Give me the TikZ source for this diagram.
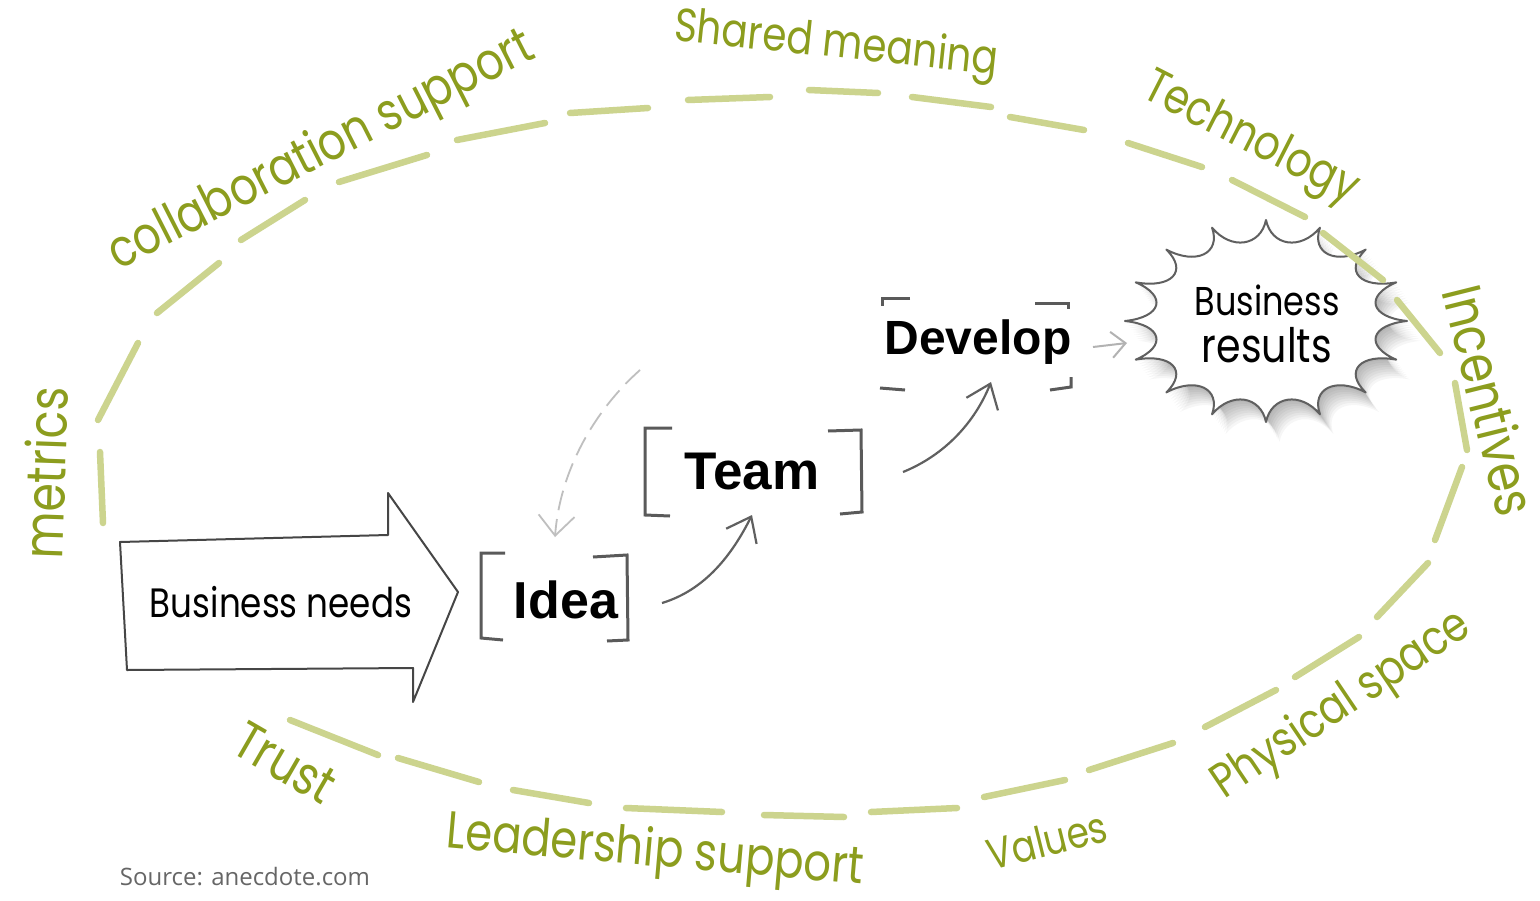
\documentclass[tikz,border=0pt]{standalone}
\usepackage{fontspec}
\usepackage{graphicx}
\usetikzlibrary{arrows.meta}
\newfontfamily\handfont{Poppins}
\newfontfamily\boldsans{Liberation Sans}
\newfontfamily\srcfont{Open Sans}
\definecolor{lblgreen}{RGB}{140,157,30}
\definecolor{dashgreen}{RGB}{204,212,142}
\definecolor{pencil}{RGB}{70,70,70}
\definecolor{brkgray}{RGB}{90,90,90}
\newcommand\fitw[2]{\scalebox{1}[1.2]{\resizebox{#1}{!}{#2}}}
\newcommand\burstpath[1]{%
  \path[#1] ({1266+141},321) \foreach \i in {1,...,16}{
    .. controls ({1266+0.74*141*cos((\i-1)*22.5+3)},{321+0.74*101*sin((\i-1)*22.5+3)})
    and ({1266+0.74*141*cos(\i*22.5-3)},{321+0.74*101*sin(\i*22.5-3)})
    .. ({1266+141*cos(\i*22.5)},{321+101*sin(\i*22.5)})
  } -- cycle;}
\begin{document}
\begin{tikzpicture}[x=1pt,y=-1pt,
  glabel/.style={text=lblgreen, inner sep=0pt, font=\handfont},
  ring/.style={draw=dashgreen, line width=6.5pt, line cap=round},
  brk/.style={draw=brkgray, line width=3pt},
  pencilline/.style={draw=pencil, line width=2pt, line join=round},
  barb/.style={-{Straight Barb[length=22pt,width=34pt]}},
  pencilarrow/.style={draw=gray!75!black, line width=2.2pt, barb},
  fadedarrow/.style={draw=gray!50, line width=1.8pt, dash pattern=on 20pt off 9pt, -{Straight Barb[length=20pt,width=36pt]}},
  smallarrow/.style={draw=gray!60, line width=2pt, -{Straight Barb[length=14pt,width=26pt]}},
  bold/.style={inner sep=0pt, font=\boldsans\bfseries}
]
\fill[white] (0,0) rectangle (1540,900);
\path[use as bounding box] (0,0) rectangle (1540,900);

% burst shadow + burst
\foreach \s in {1,...,9}{\burstpath{fill=black, fill opacity=0.035, xshift=\s*1.5pt, yshift=-\s*2.2pt}}
\burstpath{fill=white, draw=gray!75!black, line width=2pt, line join=round}

% dashed ring
\draw[ring]
 (290,720) -- (378,755)  (398,758) -- (479,782)  (513,790) -- (589,803)
 (626,808) -- (722,812)  (764,815) -- (844,817)  (871,812) -- (957,808)
 (984,797) -- (1065,780) (1089,770) -- (1173,743) (1205,727) -- (1276,690)
 (1295,677) -- (1359,637) (1377,617) -- (1428,563) (1435,540) -- (1462,467)
 (1467,450) -- (1455,383) (1440,353) -- (1397,300) (1383,280) -- (1323,233)
 (1305,217) -- (1232,180) (1202,167) -- (1128,143) (1084,130) -- (1010,117)
 (991,107) -- (912,97) (878,93) -- (809,90) (770,97) -- (688,100)
 (648,108) -- (570,113) (545,123) -- (457,140) (427,155) -- (339,182)
 (305,200) -- (241,240) (219,263) -- (157,313) (138,343) -- (98,420)
 (100,452) -- (103,523);

% green labels
\node[glabel, rotate=27] (collab) at (322,152) {\fitw{470pt}{collaboration support}};
\node[glabel, rotate=-6] (shared) at (836,46) {\fitw{325pt}{Shared meaning}};
\node[glabel, rotate=-27] (tech) at (1250,140) {\fitw{235pt}{Technology}};
\node[glabel, rotate=-76] (incent) at (1490,400) {\fitw{235pt}{Incentives}};
\node[glabel, rotate=88] (metrics) at (45,473) {\fitw{172pt}{metrics}};
\node[glabel, rotate=-30] (trust) at (285,763) {\fitw{108pt}{Trust}};
\node[glabel, rotate=-5] (leader) at (655,853) {\fitw{418pt}{Leadership support}};
\node[glabel, rotate=14] (values) at (1047,840) {\fitw{122pt}{Values}};
\node[glabel, rotate=34] (physical) at (1342,706) {\fitw{300pt}{Physical space}};

% source
\node[inner sep=0pt, text=gray!80!black, font=\srcfont\fontsize{24}{28}\selectfont] (src) at (245,877) {Source: anecdote.com};

% business needs arrow
\draw[pencilline] (120,542) -- (388,535) -- (388,493) -- (458,592) -- (413,702) -- (413,668) -- (127,670) -- cycle;
\node[inner sep=0pt, font=\handfont] (bneeds) at (281,602) {\fitw{262pt}{Business needs}};

% brackets
\draw[brk] (505,553) -- (481,553) -- (481,638) -- (503,640);
\draw[brk] (593,557) -- (627,555) -- (628,640) -- (607,641);
\draw[brk] (672,428) -- (645,428) -- (645,515) -- (670,516);
\draw[brk] (828,431) -- (861,430) -- (862,512) -- (840,514);
\draw[brk] (910,298) -- (882,298) -- (882,306);
\draw[brk] (880,388) -- (905,390);
\draw[brk] (1035,303) -- (1068,303) -- (1068,309);
\draw[brk] (1050,390) -- (1071,387) -- (1071,377);

% step labels
\node[bold, font=\boldsans\bfseries\fontsize{52}{60}\selectfont] (idea) at (566,600) {Idea};
\node[bold, font=\boldsans\bfseries\fontsize{53}{60}\selectfont] (team) at (752,472) {Team};
\node[bold, font=\boldsans\bfseries\fontsize{48}{56}\selectfont] (develop) at (978,342) {Develop};

% results text
\node[inner sep=0pt, font=\handfont] (results1) at (1267,300) {\fitw{145pt}{Business}};
\node[inner sep=0pt, font=\handfont] (results2) at (1267,345) {\fitw{130pt}{results}};

% connectors
\coordinate (i2ts) at (662,603);
\coordinate (i2te) at (752,515);
\coordinate (t2ds) at (903,472);
\coordinate (t2de) at (991,382);
\coordinate (fbs) at (640,370);
\coordinate (fbe) at (555,537);
\coordinate (d2rs) at (1093,347);
\coordinate (d2re) at (1127,343);
\draw[pencilarrow] (i2ts) .. controls (705,590) and (732,555) .. (i2te);
\draw[pencilarrow] (t2ds) .. controls (945,455) and (975,422) .. (t2de);
\draw[fadedarrow] (fbs) .. controls (595,410) and (560,470) .. (fbe);
\draw[smallarrow] (d2rs) -- (d2re);
\end{tikzpicture}
\end{document}
